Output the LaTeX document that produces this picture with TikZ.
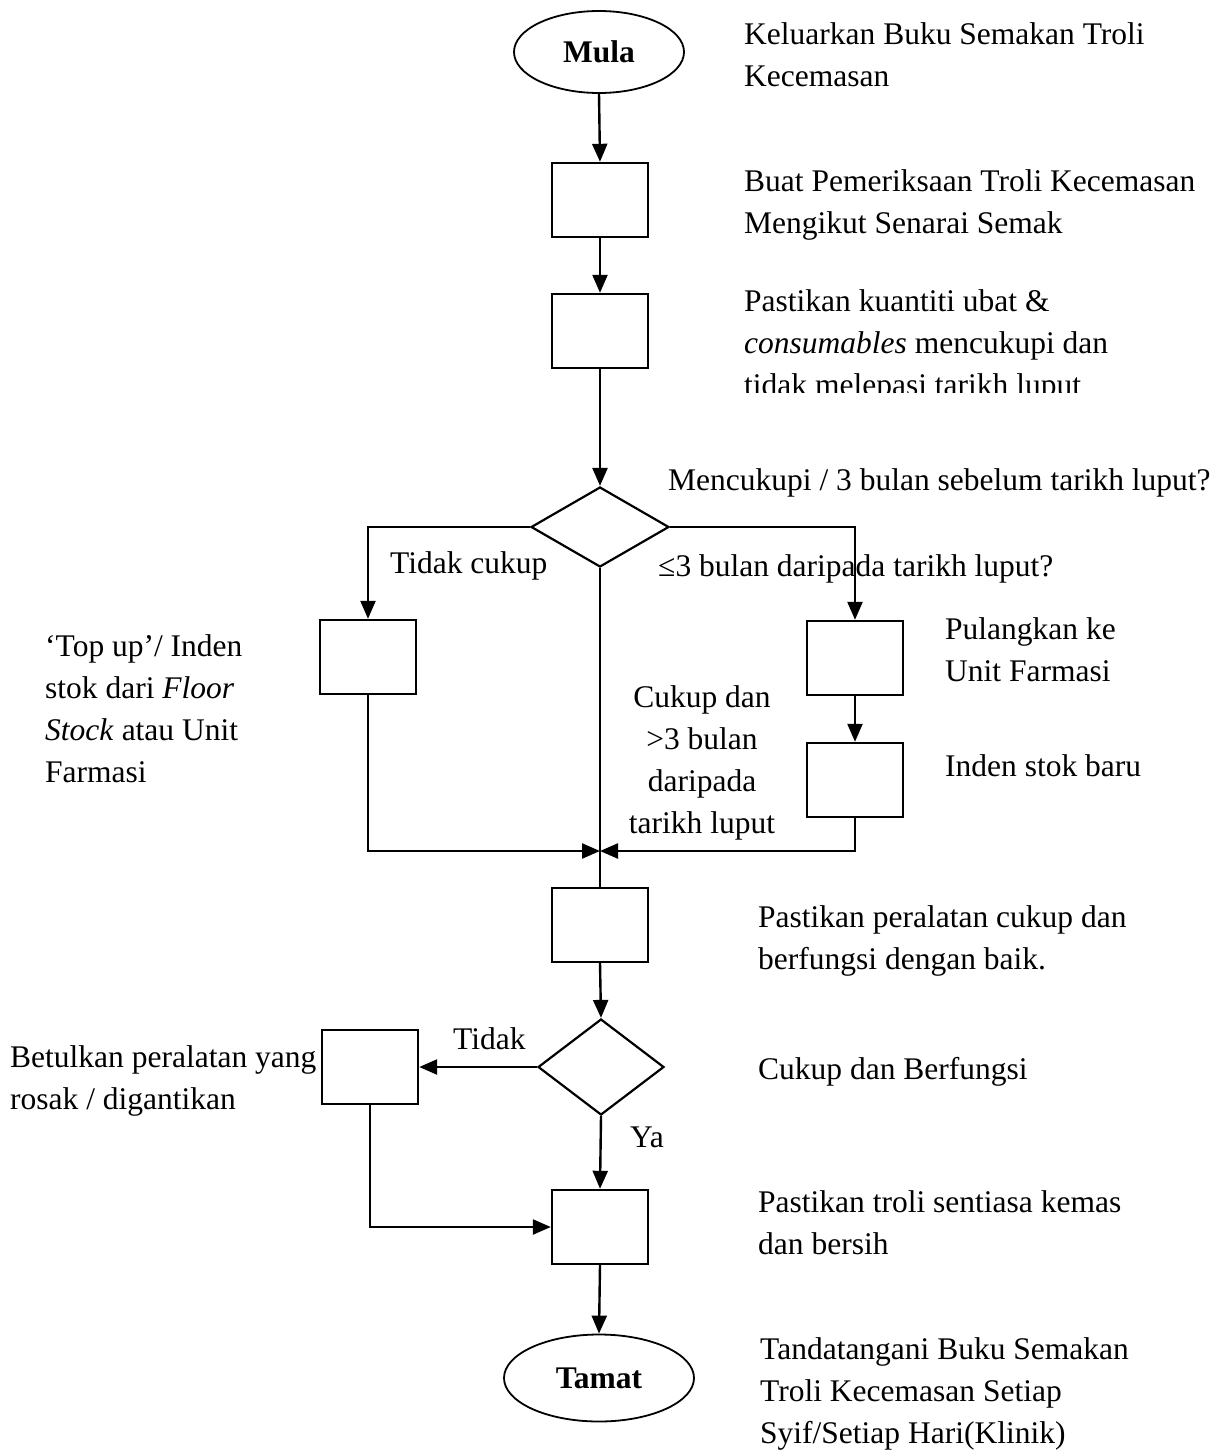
\documentclass[tikz,border=0pt]{standalone}
\usepackage{fontspec}
\setmainfont{Liberation Serif}
\usetikzlibrary{shapes.geometric,arrows.meta}
\begin{document}
\begin{tikzpicture}[x=1pt,y=-1pt,
  every node/.style={font=\fontsize{31.5}{42}\selectfont},
  conn/.style={line width=2.4pt},
  arr/.style={conn,-{Triangle[length=18pt,width=15pt]}},
  stepbox/.style={draw,line width=2.4pt,minimum width=96pt,minimum height=74pt,inner sep=0pt},
  term/.style={draw,line width=1.8pt,ellipse,inner sep=0pt,font=\fontsize{31.5}{42}\selectfont\bfseries},
  decide/.style={draw,line width=2.2pt,diamond,inner sep=0pt},
  txt/.style={anchor=north west,inner sep=0pt,align=left},
  ctxt/.style={anchor=north,inner sep=0pt,align=center}]
\useasboundingbox (0,0) rectangle (1231,1450);
% shapes
\node[term,minimum width=170pt,minimum height=82pt] (mula) at (599,52) {Mula};
\node[stepbox] (b1) at (600,200) {};
\node[stepbox] (b2) at (600,331) {};
\node[decide,minimum width=138pt,minimum height=80pt] (d1) at (600,527) {};
\node[stepbox] (bl) at (368,657) {};
\node[stepbox] (r1) at (855,658) {};
\node[stepbox] (r2) at (855,780) {};
\coordinate (merge) at (600,851);
\node[stepbox] (b4) at (600,925) {};
\node[decide,minimum width=126pt,minimum height=96pt] (d2) at (601,1067) {};
\node[stepbox] (b5) at (370,1067) {};
\node[stepbox] (b6) at (600,1227) {};
\node[term,minimum width=190pt,minimum height=87pt] (tamat) at (599,1378) {Tamat};
% connectors
\draw[arr] (mula.south) -- (b1.north);
\draw[arr] (b1.south) -- (b2.north);
\draw[arr] (b2.south) -- (d1.north);
\draw[arr] (d1.west) -| (bl.north);
\draw[arr] (d1.east) -| (r1.north);
\draw[arr] (r1.south) -- (r2.north);
\draw[arr] (bl.south) |- (merge);
\draw[arr] (r2.south) |- (merge);
\draw[conn] (d1.south) -- (b4.north);
\draw[arr] (b4.south) -- (d2.north);
\draw[arr] (d2.west) -- (b5.east);
\draw[arr] (d2.south) -- (b6.north);
\draw[arr] (b5.south) |- (b6.west);
\draw[arr] (b6.south) -- (tamat.north);
% texts
\node[txt] (t1) at (744,15) {\strut Keluarkan Buku Semakan Troli\\Kecemasan};
\node[txt] (t2) at (744,162) {\strut Buat Pemeriksaan Troli Kecemasan\\Mengikut Senarai Semak};
\begin{scope}
\clip (700,250) rectangle (1231,392);
\node[txt] (t3) at (744,282) {\strut Pastikan kuantiti ubat \&\\\textit{consumables} mencukupi dan\\tidak melepasi tarikh luput};
\end{scope}
\node[txt] (q1) at (668,461) {\strut Mencukupi / 3 bulan sebelum tarikh luput?};
\node[txt] (lq) at (658,547) {\strut ≤3 bulan daripada tarikh luput?};
\node[txt] (tc) at (390,544) {\strut Tidak cukup};
\node[txt] (tl) at (45,627) {\strut ‘Top up’/ Inden\\stok dari \textit{Floor}\\\textit{Stock} atau Unit\\Farmasi};
\node[ctxt] (ck) at (702,678) {\strut Cukup dan\\>3 bulan\\daripada\\tarikh luput};
\node[txt] (tr1) at (945,610) {\strut Pulangkan ke\\Unit Farmasi};
\node[txt] (tr2) at (945,747) {\strut Inden stok baru};
\node[txt] (t4) at (758,898) {\strut Pastikan peralatan cukup dan\\berfungsi dengan baik.};
\node[txt] (tno) at (453,1020) {\strut Tidak};
\node[txt] (t5) at (10,1038) {\strut Betulkan peralatan yang\\rosak / digantikan};
\node[txt] (t6) at (758,1050) {\strut Cukup dan Berfungsi};
\node[txt] (tya) at (630,1118) {\strut Ya};
\node[txt] (t7) at (758,1183) {\strut Pastikan troli sentiasa kemas\\dan bersih};
\node[txt] (t8) at (760,1330) {\strut Tandatangani Buku Semakan\\Troli Kecemasan Setiap\\Syif/Setiap Hari(Klinik)};
\end{tikzpicture}
\end{document}
